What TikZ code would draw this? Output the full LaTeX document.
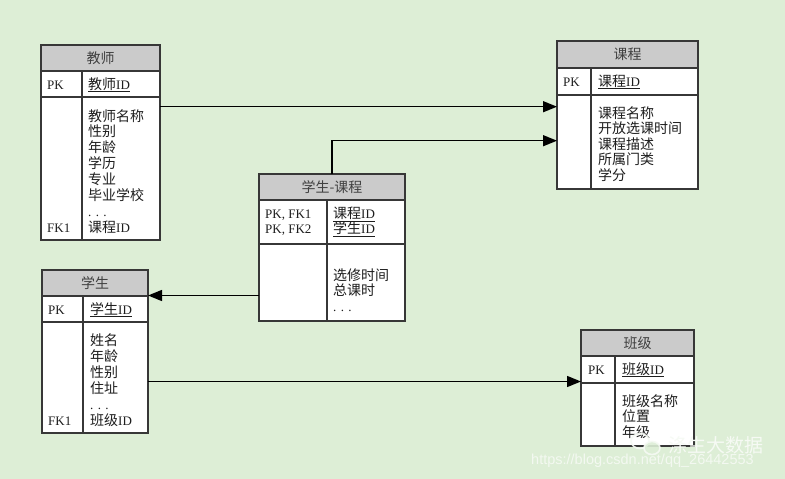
\documentclass[tikz,border=0pt]{standalone}
\usepackage{fontspec}
\setmainfont{Liberation Serif}
\newfontfamily\cjk{Noto Sans CJK SC}
\newfontfamily\wmsans{Liberation Sans}
\usetikzlibrary{arrows.meta}
\definecolor{bgc}{RGB}{221,238,214}
\definecolor{hdrc}{RGB}{203,203,203}
\definecolor{linec}{RGB}{55,55,55}
\definecolor{textc}{RGB}{30,30,30}
\definecolor{wmc}{RGB}{246,250,244}
\newcommand\zh[1]{{\cjk\fontsize{14}{16}\selectfont #1}}
\tikzset{
  tframe/.style={draw=linec, line width=1.3pt, fill=white, anchor=north west, inner sep=0, outer sep=0},
  thead/.style={draw=linec, line width=1.3pt, fill=hdrc, anchor=north west, inner sep=0, outer sep=0},
  tline/.style={draw=linec, line width=1.3pt},
  htxt/.style={anchor=center, inner sep=0, text=textc!85!white},
  txt/.style={anchor=base west, inner sep=0, text=textc, font=\fontsize{13}{15}\selectfont},
  arr/.style={draw=black, line width=1.4pt, -{Triangle[length=14pt,width=11pt]}},
  wm/.style={inner sep=0, text=wmc}
}
\begin{document}
\begin{tikzpicture}[x=1pt,y=-1pt]
\fill[bgc] (0,0) rectangle (785,479);
\useasboundingbox (0,0) rectangle (785,479);

% ---------- 教师 ----------
\node[tframe, minimum width=119, minimum height=195] (tea) at (41,45) {};
\node[thead, minimum width=119, minimum height=26] (tea-h) at (41,45) {};
\draw[tline] (41,97) -- (160,97);
\draw[tline] (82,71) -- (82,240);
\node[htxt] (tea-t) at (tea-h.center) {\zh{教师}};
\node[txt] (tea-pk) at (47,89) {PK};
\node[txt] (tea-id) at (88,89) {\underline{\zh{教师}ID}};
\foreach \t [count=\i] in {教师名称,性别,年龄,学历,专业,毕业学校}
  \node[txt] (tea-\i) at (88,{121+15.9*(\i-1)}) {\zh{\t}};
\node[txt] (tea-dots) at (88,216.4) {. . .};
\node[txt] (tea-fk) at (47,232.3) {FK1};
\node[txt] (tea-fkid) at (88,232.3) {\zh{课程}ID};

% ---------- 课程 ----------
\node[tframe, minimum width=141, minimum height=148] (crs) at (557,41) {};
\node[thead, minimum width=141, minimum height=27] (crs-h) at (557,41) {};
\draw[tline] (557,95) -- (698,95);
\draw[tline] (591,68) -- (591,189);
\node[htxt] (crs-t) at (crs-h.center) {\zh{课程}};
\node[txt] (crs-pk) at (563,86) {PK};
\node[txt] (crs-id) at (598,86) {\underline{\zh{课程}ID}};
\foreach \t [count=\i] in {课程名称,开放选课时间,课程描述,所属门类,学分}
  \node[txt] (crs-\i) at (598,{118+15.6*(\i-1)}) {\zh{\t}};

% ---------- 学生-课程 ----------
\node[tframe, minimum width=146, minimum height=147] (sc) at (259,174) {};
\node[thead, minimum width=146, minimum height=26] (sc-h) at (259,174) {};
\draw[tline] (259,244) -- (405,244);
\draw[tline] (327,200) -- (327,321);
\node[htxt] (sc-t) at (sc-h.center) {\zh{学生-课程}};
\node[txt] (sc-k1) at (265,218.5) {PK, FK1};
\node[txt] (sc-k2) at (265,233.5) {PK, FK2};
\node[txt] (sc-c1) at (333,218.5) {\underline{\zh{课程}ID}};
\node[txt] (sc-c2) at (333,233.5) {\underline{\zh{学生}ID}};
\node[txt] (sc-1) at (333,280) {\zh{选修时间}};
\node[txt] (sc-2) at (333,295.5) {\zh{总课时}};
\node[txt] (sc-dots) at (333,311) {. . .};

% ---------- 学生 ----------
\node[tframe, minimum width=106, minimum height=163] (stu) at (42,270) {};
\node[thead, minimum width=106, minimum height=26] (stu-h) at (42,270) {};
\draw[tline] (42,322) -- (148,322);
\draw[tline] (83,296) -- (83,433);
\node[htxt] (stu-t) at (stu-h.center) {\zh{学生}};
\node[txt] (stu-pk) at (48,314) {PK};
\node[txt] (stu-id) at (90,314) {\underline{\zh{学生}ID}};
\foreach \t [count=\i] in {姓名,年龄,性别,住址}
  \node[txt] (stu-\i) at (90,{345+16*(\i-1)}) {\zh{\t}};
\node[txt] (stu-dots) at (90,409) {. . .};
\node[txt] (stu-fk) at (48,425) {FK1};
\node[txt] (stu-fkid) at (90,425) {\zh{班级}ID};

% ---------- 班级 ----------
\node[tframe, minimum width=113, minimum height=116] (cls) at (581,330) {};
\node[thead, minimum width=113, minimum height=26] (cls-h) at (581,330) {};
\draw[tline] (581,383) -- (694,383);
\draw[tline] (615,356) -- (615,446);
\node[htxt] (cls-t) at (cls-h.center) {\zh{班级}};
\node[txt] (cls-pk) at (588,374) {PK};
\node[txt] (cls-id) at (622,374) {\underline{\zh{班级}ID}};
\foreach \t [count=\i] in {班级名称,位置,年级}
  \node[txt] (cls-\i) at (622,{406+15.6*(\i-1)}) {\zh{\t}};

% ---------- connectors ----------
\draw[arr] (tea.east |- 0,106.7) -- (crs.west |- 0,106.7);
\draw[arr] (sc.north) |- (crs.west |- 0,140.7);
\draw[arr] (sc.west |- 0,295.5) -- (stu.east |- 0,295.5);
\draw[arr] (stu.east |- 0,381.5) -- (cls.west |- 0,381.5);

% ---------- watermark ----------
\draw[wmc, line width=1.6pt, opacity=.9] (640,441) ellipse (9 and 7.5);
\draw[wmc, line width=1.6pt, opacity=.9, fill=bgc] (652,448) ellipse (8 and 6.5);
\node[wm, anchor=west] (wm-cn) at (668,445) {{\cjk\fontsize{19}{20}\selectfont 涤生大数据}};
\node[wm, anchor=west, opacity=.9] (wm-url) at (531,461) {{\wmsans\fontsize{14.5}{16}\selectfont https://blog.csdn.net/qq\_26442553}};
\end{tikzpicture}
\end{document}
